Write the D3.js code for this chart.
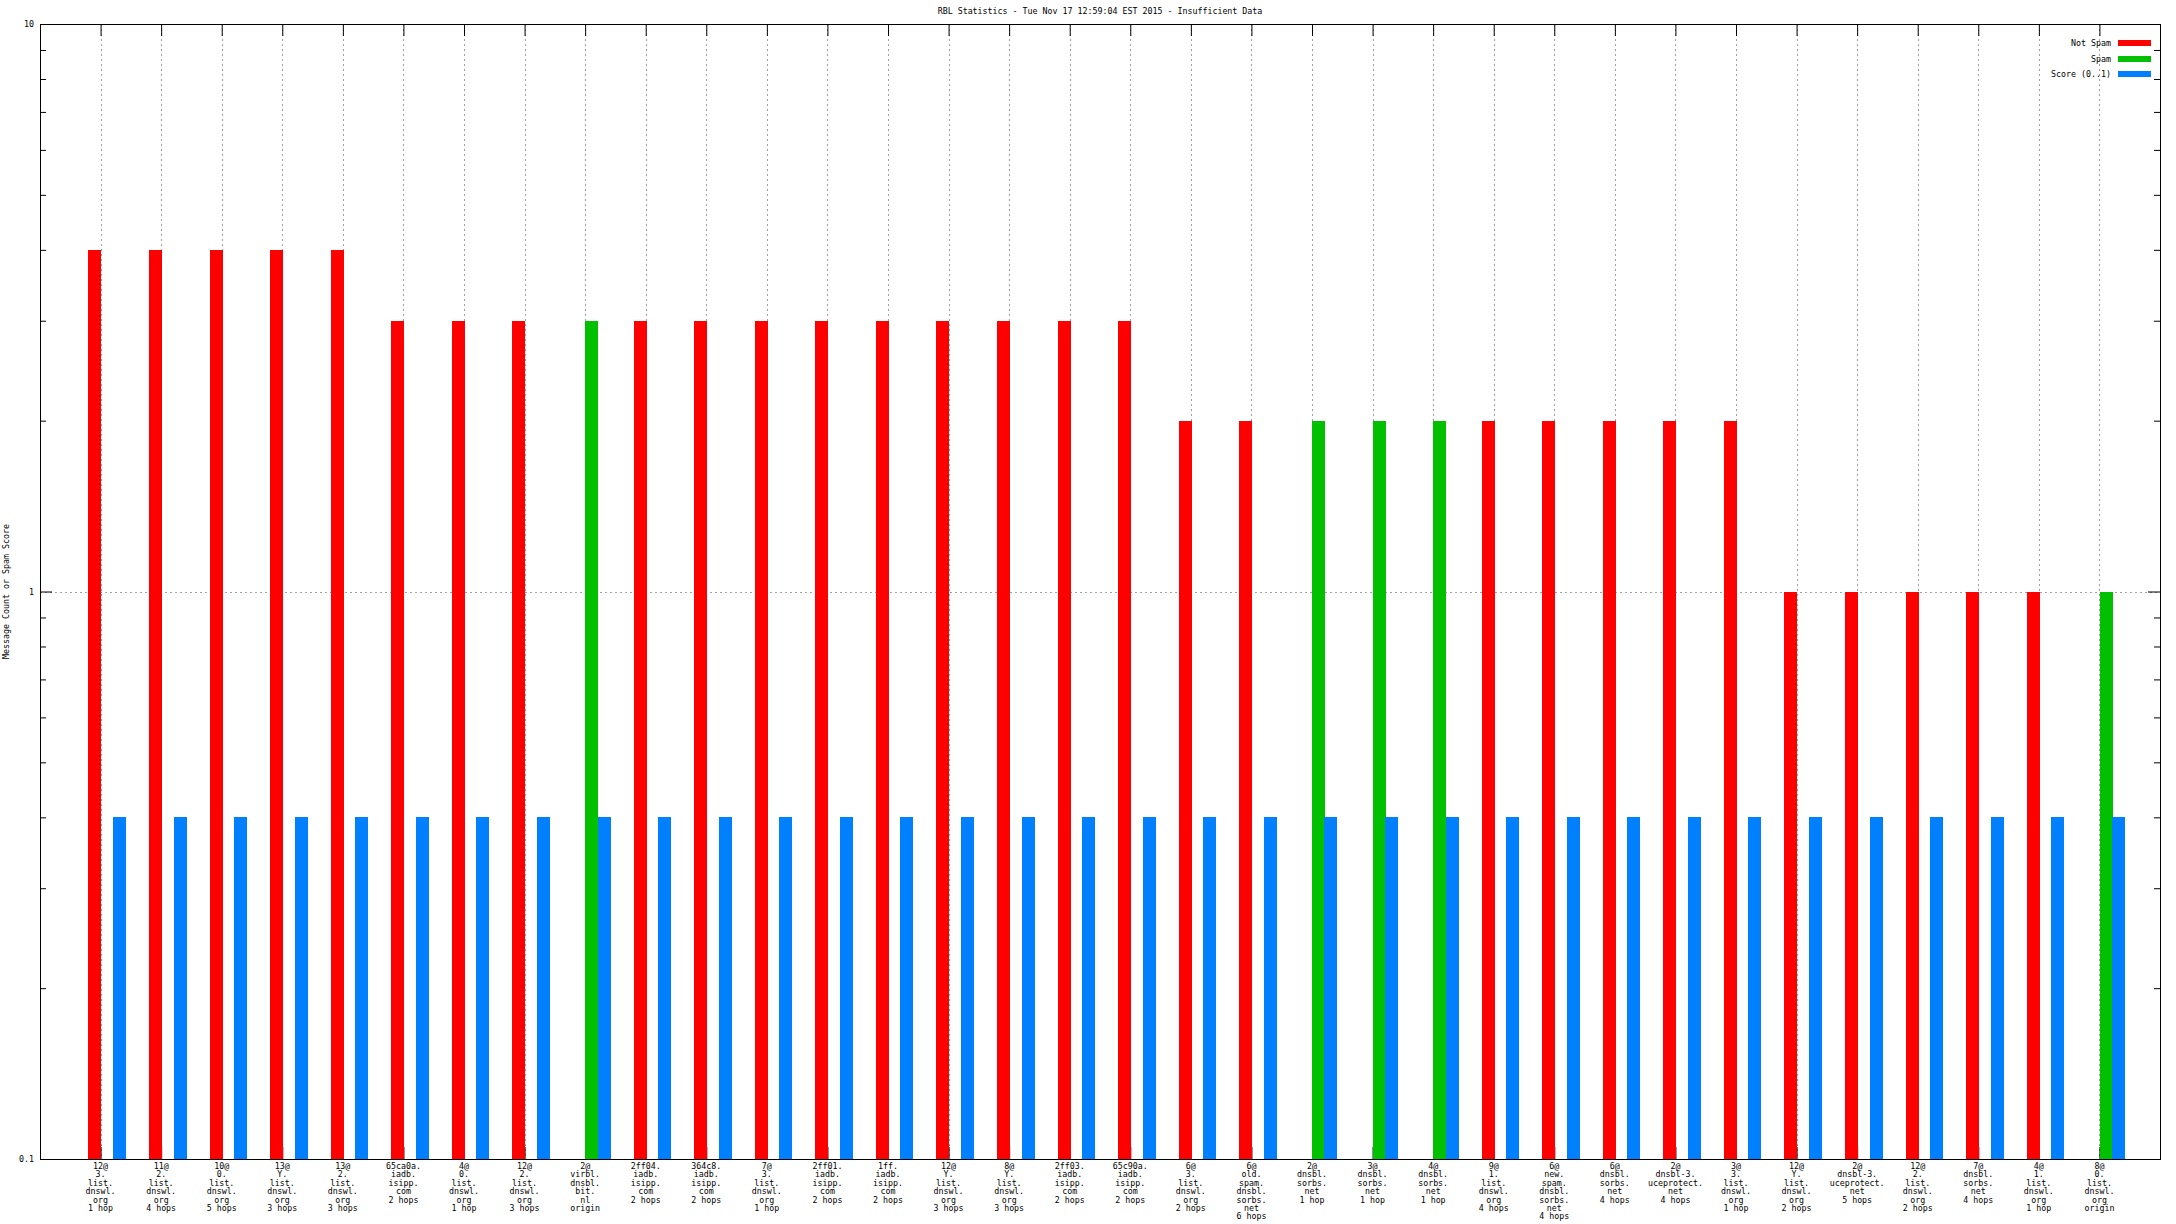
<!DOCTYPE html>
<html>
<head>
<meta charset="utf-8">
<script src="https://cdn.jsdelivr.net/npm/d3@7"></script>
<style>
html,body{margin:0;padding:0;background:#fff;}
svg{display:block;}
text{font-family:"DejaVu Sans Mono","Liberation Mono",monospace;font-size:8.3px;fill:#000;}
</style>
</head>
<body>
<svg id="chart" width="2176" height="1224"></svg>
<script>
const title = "RBL Statistics - Tue Nov 17 12:59:04 EST 2015 - Insufficient Data";
const yTitle = "Message Count or Spam Score";
const categories = [
"12@\n3.\nlist.\ndnswl.\norg\n1 hop",
"11@\n2.\nlist.\ndnswl.\norg\n4 hops",
"10@\n0.\nlist.\ndnswl.\norg\n5 hops",
"13@\nY.\nlist.\ndnswl.\norg\n3 hops",
"13@\n2.\nlist.\ndnswl.\norg\n3 hops",
"65ca0a.\niadb.\nisipp.\ncom\n2 hops",
"4@\n0.\nlist.\ndnswl.\norg\n1 hop",
"12@\n2.\nlist.\ndnswl.\norg\n3 hops",
"2@\nvirbl.\ndnsbl.\nbit.\nnl\norigin",
"2ff04.\niadb.\nisipp.\ncom\n2 hops",
"364c8.\niadb.\nisipp.\ncom\n2 hops",
"7@\n3.\nlist.\ndnswl.\norg\n1 hop",
"2ff01.\niadb.\nisipp.\ncom\n2 hops",
"1ff.\niadb.\nisipp.\ncom\n2 hops",
"12@\nY.\nlist.\ndnswl.\norg\n3 hops",
"8@\nY.\nlist.\ndnswl.\norg\n3 hops",
"2ff03.\niadb.\nisipp.\ncom\n2 hops",
"65c90a.\niadb.\nisipp.\ncom\n2 hops",
"6@\n3.\nlist.\ndnswl.\norg\n2 hops",
"6@\nold.\nspam.\ndnsbl.\nsorbs.\nnet\n6 hops",
"2@\ndnsbl.\nsorbs.\nnet\n1 hop",
"3@\ndnsbl.\nsorbs.\nnet\n1 hop",
"4@\ndnsbl.\nsorbs.\nnet\n1 hop",
"9@\n1.\nlist.\ndnswl.\norg\n4 hops",
"6@\nnew.\nspam.\ndnsbl.\nsorbs.\nnet\n4 hops",
"6@\ndnsbl.\nsorbs.\nnet\n4 hops",
"2@\ndnsbl-3.\nuceprotect.\nnet\n4 hops",
"3@\n3.\nlist.\ndnswl.\norg\n1 hop",
"12@\nY.\nlist.\ndnswl.\norg\n2 hops",
"2@\ndnsbl-3.\nuceprotect.\nnet\n5 hops",
"12@\n2.\nlist.\ndnswl.\norg\n2 hops",
"7@\ndnsbl.\nsorbs.\nnet\n4 hops",
"4@\n1.\nlist.\ndnswl.\norg\n1 hop",
"8@\n0.\nlist.\ndnswl.\norg\norigin"
];
const notSpam = [4,4,4,4,4,3,3,3,0,3,3,3,3,3,3,3,3,3,2,2,0,0,0,2,2,2,2,2,1,1,1,1,1,0];
const spam    = [0,0,0,0,0,0,0,0,3,0,0,0,0,0,0,0,0,0,0,0,2,2,2,0,0,0,0,0,0,0,0,0,0,1];
const score   = [0.4,0.4,0.4,0.4,0.4,0.4,0.4,0.4,0.4,0.4,0.4,0.4,0.4,0.4,0.4,0.4,0.4,
                 0.4,0.4,0.4,0.4,0.4,0.4,0.4,0.4,0.4,0.4,0.4,0.4,0.4,0.4,0.4,0.4,0.4];
const seriesNames = ["Not Spam", "Spam", "Score (0..1)"];
const seriesColors = ["#ff0000", "#00c000", "#0080ff"];
const yMajorTicks = [0.1, 1, 10];
const yTickLabels = ["0.1", "1", "10"];

const svg = d3.select("#chart");
const L = 40, R = 2160, T = 24, B = 1159;

const x = d3.scaleLinear().domain([-1, categories.length]).range([L, R]);
const y = d3.scaleLog().domain([0.1, 10]).range([B, T]);
const unit = x(1) - x(0);
const sub = d3.scaleBand().domain([0,1,2]).range([-0.193*unit, 0.413*unit]);
const barW = 13;

const yMinor = [];
[0.1, 1].forEach(d => { for (let k = 2; k <= 9; k++) yMinor.push(+(d*k).toFixed(3)); });

// grid
const grid = svg.append("g").attr("stroke", "#a0a0a0").attr("stroke-width", 1).attr("stroke-dasharray", "2,3");
grid.selectAll("line.v").data(categories.map((c,i)=>i)).join("line")
  .attr("x1", d => Math.round(x(d)) + 0.5).attr("x2", d => Math.round(x(d)) + 0.5)
  .attr("y1", T).attr("y2", B);
grid.selectAll("line.h").data([1]).join("line")
  .attr("x1", L).attr("x2", R)
  .attr("y1", d => Math.round(y(d)) + 0.5).attr("y2", d => Math.round(y(d)) + 0.5);

function styleAxis(g) {
  g.select(".domain").remove();
  g.selectAll(".tick line").attr("stroke", "#000").attr("stroke-width", 1);
  g.selectAll(".tick text").attr("font-family", null).attr("font-size", null).attr("fill", "#000");
  g.attr("font-family", null).attr("font-size", null);
}

// y axes (left with labels, right mirror)
svg.append("g").attr("transform", `translate(${L},0)`)
  .call(d3.axisLeft(y).tickValues(yMajorTicks).tickSizeInner(-12).tickSizeOuter(0).tickPadding(6)
        .tickFormat((d,i) => yTickLabels[i]))
  .call(styleAxis);
svg.append("g").attr("transform", `translate(${L},0)`)
  .call(d3.axisLeft(y).tickValues(yMinor).tickSizeInner(-6).tickSizeOuter(0).tickFormat(""))
  .call(styleAxis);
svg.append("g").attr("transform", `translate(${R},0)`)
  .call(d3.axisRight(y).tickValues(yMajorTicks).tickSizeInner(-12).tickSizeOuter(0).tickFormat(""))
  .call(styleAxis);
svg.append("g").attr("transform", `translate(${R},0)`)
  .call(d3.axisRight(y).tickValues(yMinor).tickSizeInner(-6).tickSizeOuter(0).tickFormat(""))
  .call(styleAxis);

// x axes (ticks inward top and bottom)
const idx = categories.map((c,i)=>i);
svg.append("g").attr("transform", `translate(0,${T})`)
  .call(d3.axisTop(x).tickValues(idx).tickSizeInner(-12).tickSizeOuter(0).tickFormat(""))
  .call(styleAxis);
svg.append("g").attr("transform", `translate(0,${B})`)
  .call(d3.axisBottom(x).tickValues(idx).tickSizeInner(-12).tickSizeOuter(0).tickFormat(""))
  .call(styleAxis);

// x labels (multi-line)
const xl = svg.append("g");
categories.forEach((c, i) => {
  const t = xl.append("text").attr("text-anchor", "middle");
  c.split("\n").forEach((line, k) => {
    t.append("tspan").attr("x", x(i)).attr("y", 1169 + k*8.4).text(line);
  });
});

// bars
const series = [notSpam, spam, score];
const bars = svg.append("g");
series.forEach((vals, s) => {
  bars.selectAll(null).data(vals.map((v,i)=>({v,i}))).join("rect")
    .filter(d => d.v > 0)
    .attr("x", d => Math.round(x(d.i) + sub(s) + sub.bandwidth()/2 - barW/2))
    .attr("width", barW)
    .attr("y", d => Math.round(y(d.v)))
    .attr("height", d => B - Math.round(y(d.v)))
    .attr("fill", seriesColors[s]);
});

// border
svg.append("rect").attr("x", L + 0.5).attr("y", T + 0.5).attr("width", R - L).attr("height", B - T)
  .attr("fill", "none").attr("stroke", "#000").attr("stroke-width", 1);

// title
svg.append("text").attr("x", (L + R)/2).attr("y", 14).attr("text-anchor", "middle").text(title);

// y title
svg.append("text").attr("transform", `translate(9,${(T+B)/2}) rotate(-90)`)
  .attr("text-anchor", "middle").text(yTitle);

// legend
const lg = svg.append("g");
seriesNames.forEach((n, s) => {
  const cy = 43.3 + s*15.2;
  lg.append("text").attr("x", 2111).attr("y", cy + 3).attr("text-anchor", "end").text(n);
  lg.append("rect").attr("x", 2118).attr("y", Math.round(cy - 3)).attr("width", 33).attr("height", 6)
    .attr("fill", seriesColors[s]);
});
</script>
</body>
</html>
